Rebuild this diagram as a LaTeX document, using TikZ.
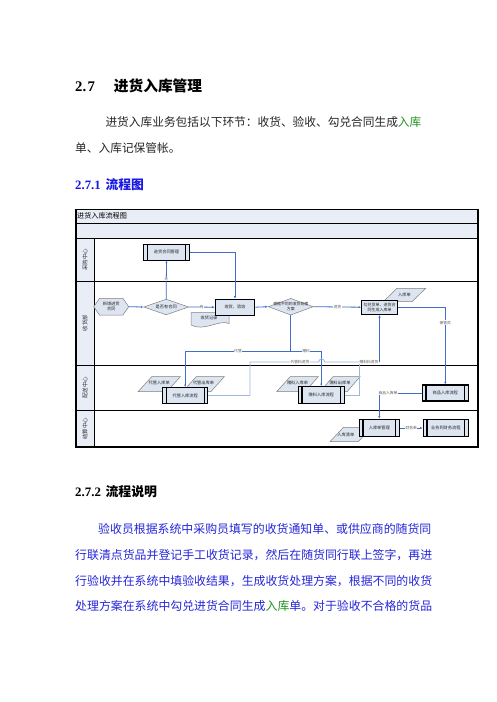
\documentclass[tikz,border=0pt]{standalone}
\usepackage{fontspec}
\setmainfont{Liberation Serif}
\newfontfamily\cjk{Noto Sans CJK SC}
\usetikzlibrary{shapes.geometric,shapes.symbols,arrows.meta,calc}
\definecolor{hdrfill}{HTML}{E8EDF6}
\definecolor{nodefill}{HTML}{DDE5F1}
\definecolor{lineblue}{HTML}{3F6FC6}
\definecolor{lightblue}{HTML}{9CB8E2}
\definecolor{graybd}{HTML}{7F7F7F}
\definecolor{headblue}{HTML}{1A1AE6}
\definecolor{parablue}{HTML}{2626D9}
\definecolor{txtgreen}{HTML}{1E961E}
\begin{document}
\begin{tikzpicture}[x=1pt,y=-1pt,
  flowtxt/.style={font=\fontsize{4.2}{4.9}\selectfont\cjk, align=center, inner sep=0.3pt, text=black!85},
  boxnode/.style={flowtxt, rectangle, draw=black, line width=1.1pt, fill=nodefill},
  dianode/.style={diamond, draw=graybd, line width=0.5pt, fill=nodefill, inner sep=0.5pt, font=\fontsize{4}{4}\selectfont},
  paranode/.style={trapezium, trapezium left angle=62, trapezium right angle=118, trapezium stretches=true, draw=graybd, line width=0.5pt, fill=nodefill, inner sep=0.5pt, font=\fontsize{4}{4}\selectfont},
  hexnode/.style={flowtxt, signal, signal to=west and east, signal pointer angle=110, draw=graybd, line width=0.5pt, fill=nodefill, inner sep=0.5pt},
  conn/.style={draw=lineblue, line width=0.8pt},
  arr/.style={conn, -{Latex[length=2.6pt,width=2.2pt]}},
  lightconn/.style={draw=lightblue, line width=0.8pt},
  lbl/.style={font=\fontsize{3.8}{4.2}\selectfont\cjk, fill=white, inner sep=0.4pt, text=black!65},
  lanetxt/.style={font=\fontsize{5.5}{6}\selectfont\cjk, rotate=90, text=black!80, inner sep=0pt},
  body/.style={anchor=base west, inner sep=0pt}
]
\useasboundingbox[fill=white] (0,0) rectangle (496,702);

% ---------- page text ----------
\node[body, font=\fontsize{14.7}{16}\selectfont\bfseries] (h27n) at (75,91) {2.\hspace{1.5pt}7};
\node[body, font=\fontsize{14.7}{16}\selectfont\cjk\bfseries] (h27t) at (113.7,91) {进货入库管理};
\node[body, font=\fontsize{11.7}{13}\selectfont\cjk, text=black!85] (p1a) at (105.3,126) {进货入库业务包括以下环节：收货、验收、勾兑合同生成\textcolor{txtgreen}{入库}};
\node[body, font=\fontsize{11.7}{13}\selectfont\cjk, text=black!85] (p1b) at (75,152) {单、入库记保管帐。};
\node[body, font=\fontsize{12.8}{14}\selectfont\bfseries, text=headblue] (h271n) at (75,189.5) {2.7.1};
\node[body, font=\fontsize{12.8}{14}\selectfont\cjk\bfseries, text=headblue] (h271t) at (105.3,189.5) {流程图};
\node[body, font=\fontsize{12.9}{14}\selectfont\bfseries] (h272n) at (75,496) {2.7.2};
\node[body, font=\fontsize{12.9}{14}\selectfont\cjk\bfseries] (h272t) at (105.3,496) {流程说明};
\node[body, font=\fontsize{11.9}{13}\selectfont\cjk, text=parablue] (p2a) at (98,533) {验收员根据系统中采购员填写的收货通知单、或供应商的随货同};
\node[body, font=\fontsize{11.9}{13}\selectfont\cjk, text=parablue] (p2b) at (75,559) {行联清点货品并登记手工收货记录，然后在随货同行联上签字，再进};
\node[body, font=\fontsize{11.9}{13}\selectfont\cjk, text=parablue] (p2c) at (75,585) {行验收并在系统中填验收结果，生成收货处理方案，根据不同的收货};
\node[body, font=\fontsize{11.9}{13}\selectfont\cjk, text=parablue] (p2d) at (75,610.5) {处理方案在系统中勾兑进货合同生成\textcolor{txtgreen}{入库}单。对于验收不合格的货品};

% ---------- swimlane frame ----------
\fill[hdrfill] (76,209.7) rectangle (478,238);
\fill[hdrfill] (76,238) rectangle (94,447);
\draw[line width=0.8pt] (76,223) -- (478,223);
\draw[line width=0.8pt] (76,238) -- (478,238);
\draw[line width=0.9pt] (76,281) -- (478,281);
\draw[line width=0.9pt] (76,365) -- (478,365);
\draw[line width=0.9pt] (76,410) -- (478,410);
\draw[line width=0.8pt] (94,238) -- (94,447);
\draw[line width=1.2pt] (76,209.7) rectangle (478,447);
\node[anchor=west, font=\fontsize{7.1}{8}\selectfont\cjk, inner sep=0pt] (title) at (77,215.6) {进货入库流程图};
\node[lanetxt] (lane1) at (85,259.5) {采购中心};
\node[lanetxt] (lane2) at (85,323) {收货部};
\node[lanetxt] (lane3) at (85,387.5) {配送中心};
\node[lanetxt] (lane4) at (85,428.5) {结算中心};

% ---------- background shapes (documents, parallelograms) ----------
\draw[draw=graybd, line width=0.5pt, fill=nodefill] (191,312.7) -- (229,312.7) -- (229,323.5) .. controls (220,319) and (204,332) .. (191,325) -- cycle;
\node[flowtxt] (shjl) at (209,318.3) {收货记录};
\node[paranode, minimum width=42.4, minimum height=13.4, label={[flowtxt]center:入库单}] (rkd) at (404.5,295) {\phantom{i}};
\node[paranode, minimum width=42.3, minimum height=15, label={[flowtxt,yshift=1pt]center:代管入库单}] (dgrk) at (159.2,384.2) {\phantom{i}};
\node[paranode, minimum width=41.6, minimum height=15, label={[flowtxt,yshift=1pt]center:代管出库单}] (dgck) at (203.5,384.2) {\phantom{i}};
\node[paranode, minimum width=41.6, minimum height=15, label={[flowtxt,yshift=1pt]center:赠料入库单}] (zlrk) at (297.5,384.2) {\phantom{i}};
\node[paranode, minimum width=40, minimum height=15, label={[flowtxt,yshift=1pt]center:赠料出库单}] (zlck) at (340,384.2) {\phantom{i}};
\node[paranode, minimum width=41.7, minimum height=14.4, label={[flowtxt,xshift=-5pt]center:入库清单}] (rkqd) at (350.8,434.5) {\phantom{i}};

% ---------- main nodes ----------
\node[boxnode, minimum width=45.6, minimum height=15.7] (htgl) at (166.5,252.2) {进货合同管理};
\node[hexnode, minimum width=35, minimum height=16.7] (hex) at (111.2,306.7) {新增进货\\合同};
\node[dianode, minimum width=45, minimum height=15.7, label={[flowtxt]center:是否有合同}] (dia1) at (166.2,307) {\phantom{i}};
\node[boxnode, minimum width=39.4, minimum height=15.7] (shys) at (235,307.2) {收货、验收};
\node[dianode, minimum width=45, minimum height=16.7, label={[flowtxt,font=\fontsize{3.9}{4.6}\selectfont\cjk]center:根据不同的收货处理\\方案}] (dia2) at (290.8,306.7) {\phantom{i}};
\node[boxnode, minimum width=35.6, minimum height=14.3, font=\fontsize{4}{4.8}\selectfont\cjk] (gd) at (379.5,307.2) {勾兑货单、进货合\\同生成入库单};
\node[boxnode, minimum width=45, minimum height=15.6] (dglc) at (185.2,395.5) {代管入库流程};
\node[boxnode, minimum width=46, minimum height=16.6] (zllc) at (321.3,395) {赠料入库流程};
\node[boxnode, minimum width=46, minimum height=16] (sprk) at (445.3,393) {商品入库流程};
\node[boxnode, minimum width=40, minimum height=17.4] (rkgl) at (379.3,428) {入库单管理};
\node[boxnode, minimum width=45, minimum height=17.4] (ywcw) at (445.8,428) {业务到财务流程};
\foreach \n in {htgl,dglc,zllc,sprk,rkgl,ywcw}{
  \draw[line width=1.1pt] ([xshift=4.2pt]\n.north west) -- ([xshift=4.2pt]\n.south west);
  \draw[line width=1.1pt] ([xshift=-4.2pt]\n.north east) -- ([xshift=-4.2pt]\n.south east);
}

% ---------- connectors ----------
\draw[arr] (hex.east) -- (dia1.west);
\draw[arr] (dia1.east) -- node[lbl]{有} (shys.west);
\draw[arr] (dia1.north) -- node[lbl,pos=0.52]{无} (htgl.south);
\draw[arr] (htgl.east) -| (shys.north);
\draw[arr] (shys.east) -- (dia2.west);
\draw[arr] (dia2.east) -- node[lbl]{进货} (gd.west);
\draw[arr] (gd.east) -| node[lbl,pos=0.6]{保管员} (sprk.north);
\coordinate (jB) at (290.8,351);
\draw[conn] (dia2.south) -- (jB);
\draw[arr] (jB) -| node[lbl,pos=0.25]{代管} (dglc.north);
\draw[arr] (jB) -| node[lbl,pos=0.25]{赠料} (zllc.north);
\coordinate (jA) at (379.5,362);
\coordinate (cA) at (250,362);
\coordinate (cB) at (359.3,362);
\draw[lightconn] (dglc.east) -| (cA) -- (318.7,362) arc[start angle=180,end angle=360,radius=3] -- (jA);
\draw[lightconn] (zllc.east) -| (cB);
\draw[arr] (jA) -- (gd.south);
\node[lbl] (lbA) at (300,362) {代管料进货};
\node[lbl] (lbB) at (369,362) {赠料料进货};
\draw[arr] (sprk.west) -| (rkgl.north);
\node[lbl] (lbC) at (388,392.8) {商品入库单};
\draw[arr] (rkgl.east) -- node[lbl]{财务单} (ywcw.west);
\end{tikzpicture}
\end{document}
